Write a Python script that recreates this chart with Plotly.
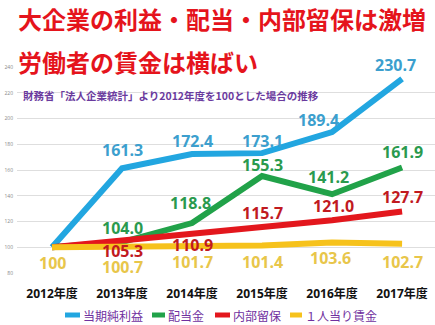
import plotly.graph_objects as go

# 年度と各系列（2012年度=100とした指数）
years = ["2012年度", "2013年度", "2014年度", "2015年度", "2016年度", "2017年度"]
net_income = [100, 161.3, 172.4, 173.1, 189.4, 230.7]
dividends = [100, 104.0, 118.8, 155.3, 141.2, 161.9]
retained = [100, 105.3, 110.9, 115.7, 121.0, 127.7]
wages = [100, 100.7, 101.7, 101.4, 103.6, 102.7]

series_names = ["当期純利益", "配当金", "内部留保", "１人当り賃金"]
y_ticks = [80, 100, 120, 140, 160, 180, 200, 220, 240]

line_colors = ["#22a6e0", "#21a249", "#e3171d", "#f6c21c"]
label_colors = ["#3c9fce", "#2a9a4e", "#c11a1f", "#e8c64a"]

# 数値ラベルのずらし量（px）: (xshift, yshift)、None は非表示
label_offsets = [
    [None, (0, 18), (0, 13), (0, 12), (-14, 12), (-7, 14)],
    [None, (0, 14), (-2, 20), (0, 11), (-4, 17), (0, 16)],
    [None, (0, -11), (0, -12), (0, 14), (1, 14), (0, 15)],
    [(0, -16), (0, -21), (0, -17), (0, -16.5), (-2, -15), (0, -18)],
]

all_series = [net_income, dividends, retained, wages]
num_font = "Open Sans, Noto Sans CJK JP, sans-serif"
jp_font = "Noto Sans CJK JP, sans-serif"

# 描画領域（px）
W, H = 435, 325
ML, MR, MT, MB = 17, 0, 67, 52
PW, PH = W - ML - MR, H - MT - MB


def px_x(x):
    return (x - ML) / PW


def px_y(y):
    return (H - MB - y) / PH


fig = go.Figure()
for name, vals, col in zip(series_names, all_series, line_colors):
    fig.add_trace(go.Scatter(
        x=list(range(len(years))), y=vals, name=name, mode="lines",
        line=dict(color=col, width=6),
        hoverinfo="skip", showlegend=False,
    ))

annotations = []
for vals, offs, lc in zip(all_series, label_offsets, label_colors):
    for i, (v, off) in enumerate(zip(vals, offs)):
        if off is None:
            continue
        txt = f"{v:.1f}" if v != 100 else "100"
        annotations.append(dict(
            x=i, y=v, xref="x", yref="y", text=f"<b>{txt}</b>",
            showarrow=False, xshift=off[0], yshift=off[1],
            font=dict(family=num_font, size=16, color=lc),
            xanchor="center", yanchor="middle", borderpad=0,
        ))

# タイトルと出典
annotations += [
    dict(x=px_x(16), y=px_y(18.5), xref="paper", yref="paper", xanchor="left", yanchor="middle",
         text="<b>大企業の利益・配当・内部留保は激増</b>", showarrow=False,
         font=dict(family=jp_font, size=24, color="#e5141c")),
    dict(x=px_x(16), y=px_y(61), xref="paper", yref="paper", xanchor="left", yanchor="middle",
         text="<b>労働者の賃金は横ばい</b>", showarrow=False,
         font=dict(family=jp_font, size=24, color="#e5141c")),
    dict(x=px_x(21), y=px_y(95), xref="paper", yref="paper", xanchor="left", yanchor="middle",
         text="<b>財務省「法人企業統計」より2012年度を100とした場合の推移</b>", showarrow=False,
         font=dict(family=jp_font, size=10.5, color="#6a3a9e")),
]

# 凡例（短い線＋系列名）
legend_y = 315
legend_items = [(65, 80), (152, 165), (215, 230), (290, 302)]
shapes = []
for (x0, x1), name, col in zip(legend_items, series_names, line_colors):
    shapes.append(dict(
        type="line", xref="paper", yref="paper",
        x0=px_x(x0), x1=px_x(x1), y0=px_y(legend_y), y1=px_y(legend_y),
        line=dict(color=col, width=5),
    ))
    annotations.append(dict(
        x=px_x(x1 + 1), y=px_y(legend_y), xref="paper", yref="paper",
        xanchor="left", yanchor="middle", text=name, showarrow=False,
        font=dict(family=jp_font, size=12, color="#7030a0"),
    ))

fig.update_layout(
    width=W, height=H,
    margin=dict(l=ML, r=MR, t=MT, b=MB),
    paper_bgcolor="white", plot_bgcolor="white",
    annotations=annotations, shapes=shapes,
    showlegend=False,
)
fig.update_xaxes(
    tickmode="array", tickvals=list(range(len(years))),
    ticktext=[f"<b>{y}</b>" for y in years],
    range=[-0.5, 5.47], showgrid=False, zeroline=False, showline=False,
    ticks="", ticklabelstandoff=12,
    tickfont=dict(family=num_font, size=12, color="#111111"),
)
fig.update_yaxes(
    range=[80, 240], tickvals=y_ticks, showgrid=True, gridcolor="#dedede",
    gridwidth=1, zeroline=False, showline=False, ticks="",
    ticklabelstandoff=3,
    tickfont=dict(family=num_font, size=5, color="#888888"),
)

fig.write_html("out.html")
